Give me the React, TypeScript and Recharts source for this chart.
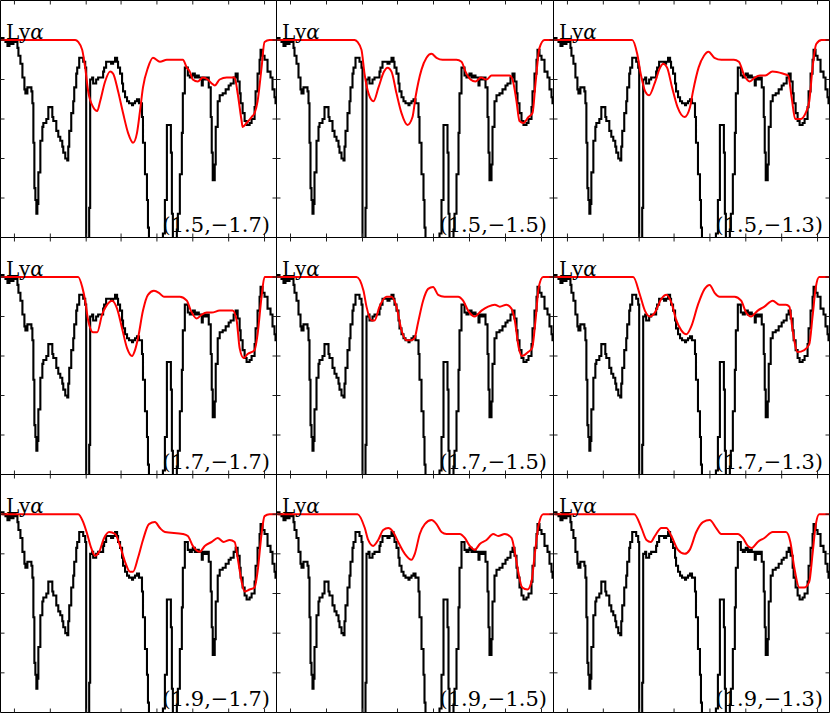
import { LineChart, Line, XAxis, YAxis } from "recharts";

// observed spectrum (same in every panel), [pixel, normalised flux]
const observed: [number, number][] = [
  [0, 1.01], [3, 1.0], [5, 0.99], [7, 0.97], [9, 1.0], [11, 0.98], [13, 1.0], [15, 0.99],
  [17, 0.96], [18, 0.92], [20, 0.88], [22, 0.81], [24, 0.75], [25, 0.73], [27, 0.76], [29, 0.76],
  [31, 0.74], [32, 0.68], [33, 0.48], [34, 0.25], [35, 0.19], [36, 0.12], [37, 0.17], [38, 0.33],
  [40, 0.49], [42, 0.56], [43, 0.58], [46, 0.6], [48, 0.66], [50, 0.66], [52, 0.61], [53, 0.59],
  [56, 0.54], [58, 0.51], [60, 0.49], [62, 0.46], [63, 0.43], [65, 0.4], [67, 0.39], [68, 0.46],
  [69, 0.54], [71, 0.63], [73, 0.69], [74, 0.76], [76, 0.83], [77, 0.86], [79, 0.91], [82, 0.91],
  [83, 0.89], [85, 0.86], [86, -0.02], [88, -0.02], [89, 0.15], [90, 0.8], [92, 0.81], [93, 0.78],
  [96, 0.8], [98, 0.81], [101, 0.81], [103, 0.84], [104, 0.86], [106, 0.89], [108, 0.89], [111, 0.88],
  [113, 0.89], [115, 0.91], [117, 0.89], [118, 0.86], [120, 0.83], [122, 0.78], [123, 0.74], [125, 0.71],
  [127, 0.69], [129, 0.68], [132, 0.67], [133, 0.68], [135, 0.69], [137, 0.7], [139, 0.68], [140, 0.68],
  [142, 0.61], [143, 0.48], [145, 0.32], [147, 0.19], [148, 0.05], [149, -0.04], [163, 0.02], [165, 0.19],
  [167, 0.57], [169, 0.57], [171, 0.43], [172, 0.12], [173, -0.04], [177, 0.04], [178, 0.12], [180, 0.32],
  [182, 0.53], [183, 0.73], [185, 0.86], [187, 0.86], [188, 0.82], [190, 0.81], [192, 0.82], [193, 0.83],
  [195, 0.81], [197, 0.82], [199, 0.81], [202, 0.77], [203, 0.81], [205, 0.8], [207, 0.81], [209, 0.76],
  [211, 0.61], [212, 0.43], [213, 0.29], [215, 0.37], [216, 0.56], [218, 0.69], [220, 0.72], [223, 0.73],
  [226, 0.75], [229, 0.77], [231, 0.78], [234, 0.81], [236, 0.83], [238, 0.79], [240, 0.73], [241, 0.68],
  [243, 0.63], [245, 0.59], [247, 0.57], [250, 0.58], [252, 0.6], [255, 0.66], [256, 0.74], [258, 0.83],
  [260, 0.9], [261, 0.95], [263, 0.92], [265, 0.9], [268, 0.84], [271, 0.81], [273, 0.75], [275, 0.71],
  [276, 0.68], [277, 0.68],
];

// model profiles, one per (x, y) parameter pair
const model_15_17: [number, number][] = [
  [0, 1.0], [75, 1.0], [78, 0.99], [82, 0.95], [85, 0.86], [88, 0.74], [93, 0.66], [97, 0.64],
  [100, 0.69], [105, 0.79], [110, 0.84], [113, 0.83], [118, 0.74], [123, 0.63], [128, 0.53], [133, 0.48],
  [137, 0.53], [140, 0.64], [143, 0.76], [148, 0.86], [153, 0.91], [160, 0.89], [167, 0.9], [183, 0.9],
  [187, 0.86], [190, 0.84], [193, 0.8], [198, 0.79], [203, 0.81], [208, 0.8], [212, 0.78], [215, 0.77],
  [220, 0.8], [227, 0.81], [235, 0.81], [238, 0.73], [242, 0.59], [243, 0.56], [247, 0.58], [252, 0.61],
  [255, 0.63], [258, 0.69], [262, 0.86], [265, 0.99], [270, 1.0], [277, 1.0],
];
const model_15_15: [number, number][] = [
  [0, 1.0], [78, 1.0], [81, 0.99], [85, 0.95], [88, 0.83], [92, 0.73], [97, 0.69], [102, 0.76],
  [107.5, 0.84], [111, 0.86], [115, 0.84], [120, 0.73], [125, 0.63], [131, 0.57], [136, 0.61], [139, 0.71],
  [145, 0.85], [150, 0.91], [155, 0.93], [160, 0.91], [166, 0.9], [180, 0.9], [185, 0.89], [189, 0.84],
  [194, 0.8], [199, 0.79], [204.5, 0.81], [210, 0.8], [215, 0.82], [222, 0.82], [233, 0.82], [236, 0.8],
  [240, 0.69], [243, 0.59], [247, 0.58], [252, 0.61], [256, 0.63], [259, 0.78], [263, 0.96], [268, 1.0],
  [277, 1.0],
];
const model_15_13: [number, number][] = [
  [0, 1.0], [79, 1.0], [84, 0.93], [87.5, 0.83], [92, 0.74], [96, 0.72], [101.5, 0.78], [107, 0.86],
  [110, 0.88], [114, 0.86], [119, 0.76], [124.5, 0.66], [131.5, 0.61], [137, 0.66], [140, 0.74], [145.6, 0.86],
  [151, 0.92], [155.5, 0.94], [161.5, 0.91], [168.5, 0.9], [181, 0.9], [186, 0.89], [191.5, 0.82], [197, 0.79],
  [202, 0.81], [207, 0.82], [212.6, 0.82], [219.7, 0.84], [230, 0.83], [235.5, 0.82], [239, 0.71], [242.6, 0.6],
  [248, 0.6], [253, 0.63], [256.7, 0.69], [260, 0.86], [263.7, 0.98], [269, 1.0], [277, 1.0],
];
const model_17_17: [number, number][] = [
  [0, 1.0], [78, 1.0], [82, 0.95], [85, 0.88], [88, 0.78], [93, 0.72], [97, 0.72], [102, 0.81],
  [107, 0.86], [112, 0.88], [117, 0.84], [122, 0.74], [127, 0.64], [132, 0.6], [135, 0.63], [138, 0.69],
  [143, 0.83], [148, 0.91], [154, 0.93], [159, 0.92], [164, 0.9], [180, 0.9], [187, 0.88], [191, 0.83],
  [197, 0.79], [202, 0.81], [207, 0.82], [212, 0.82], [220, 0.83], [233, 0.83], [237, 0.78], [240, 0.64],
  [244, 0.59], [248, 0.61], [255, 0.63], [258, 0.71], [262, 0.9], [265, 1.0], [277, 1.0],
];
const model_17_15: [number, number][] = [
  [0, 1.0], [80, 1.0], [87, 0.93], [90, 0.85], [95, 0.78], [98, 0.78], [103, 0.85], [110, 0.9],
  [115, 0.9], [120, 0.85], [125, 0.73], [130, 0.68], [135, 0.68], [138, 0.69], [141.6, 0.77], [146.6, 0.88],
  [151.6, 0.94], [156.6, 0.95], [161.6, 0.91], [168, 0.9], [181.6, 0.9], [186.6, 0.88], [191.6, 0.83], [198.3, 0.8],
  [205, 0.83], [211.6, 0.85], [218.3, 0.86], [223.3, 0.85], [230, 0.86], [235, 0.84], [238.3, 0.78], [242.3, 0.64],
  [245.6, 0.6], [251.6, 0.62], [255.6, 0.64], [259, 0.78], [262.3, 0.95], [266.6, 1.0], [277, 1.0],
];
const model_17_13: [number, number][] = [
  [0, 1.0], [80, 1.0], [86.7, 0.91], [91.7, 0.83], [96.7, 0.8], [101.7, 0.82], [108.3, 0.89], [113.3, 0.91],
  [118.3, 0.87], [123.3, 0.78], [128.3, 0.73], [133.3, 0.71], [138.3, 0.75], [145, 0.86], [151.7, 0.94], [156.7, 0.96],
  [161.7, 0.92], [166.7, 0.9], [181.7, 0.9], [188.3, 0.88], [193.3, 0.82], [198.3, 0.8], [205, 0.83], [211.7, 0.85],
  [220, 0.88], [226.7, 0.86], [233.3, 0.86], [236.7, 0.85], [240, 0.73], [245, 0.62], [251.7, 0.63], [256.7, 0.66],
  [260, 0.8], [263.3, 0.95], [266.7, 1.0], [277, 1.0],
];
const model_19_17: [number, number][] = [
  [0, 1.0], [78, 1.0], [83, 0.96], [87, 0.9], [91, 0.83], [95, 0.79], [99, 0.81], [104, 0.88],
  [109, 0.91], [115, 0.9], [120, 0.84], [125, 0.76], [130, 0.71], [133, 0.71], [138, 0.78], [143, 0.87],
  [149, 0.95], [155, 0.96], [160, 0.93], [165, 0.91], [183, 0.9], [188, 0.89], [193, 0.84], [200, 0.81],
  [205, 0.84], [212, 0.86], [218, 0.88], [224, 0.86], [230, 0.87], [235, 0.86], [238, 0.78], [242, 0.66],
  [245, 0.61], [250, 0.62], [255, 0.63], [258, 0.71], [262, 0.9], [265, 0.99], [270, 1.0], [277, 1.0],
];
const model_19_15: [number, number][] = [
  [0, 1.0], [81, 1.0], [88.3, 0.93], [91.7, 0.87], [96.7, 0.84], [101.7, 0.87], [106.7, 0.92], [111.7, 0.93],
  [116.7, 0.91], [121.7, 0.86], [128.3, 0.8], [135, 0.77], [138.3, 0.8], [143.3, 0.9], [148.3, 0.95], [155, 0.97],
  [160, 0.95], [165, 0.91], [170, 0.9], [183.3, 0.9], [188.3, 0.88], [193.3, 0.84], [198.3, 0.82], [203.3, 0.85],
  [210, 0.87], [216.7, 0.9], [221.7, 0.89], [228.3, 0.9], [235, 0.88], [238.3, 0.81], [241.7, 0.71], [245.7, 0.63],
  [251, 0.62], [255, 0.66], [258.3, 0.8], [262.3, 0.95], [266.7, 1.0], [277, 1.0],
];
const model_19_13: [number, number][] = [
  [0, 1.0], [81, 1.0], [88.3, 0.93], [93.3, 0.87], [97.7, 0.86], [101.7, 0.89], [108.3, 0.93], [113.3, 0.93],
  [118.3, 0.89], [125, 0.82], [131.7, 0.8], [136.7, 0.82], [143.3, 0.91], [150, 0.96], [156.7, 0.97], [163.3, 0.93],
  [168.3, 0.9], [185, 0.9], [190, 0.88], [195, 0.84], [199, 0.83], [205, 0.86], [211.7, 0.88], [220, 0.91],
  [226.7, 0.91], [233.3, 0.91], [237.7, 0.86], [241.7, 0.73], [246.7, 0.63], [251.7, 0.63], [256.7, 0.66], [260, 0.8],
  [263.3, 0.95], [266.7, 1.0], [277, 1.0],
];

const labels = [
  "(1.5,\u22121.7)", "(1.5,\u22121.5)", "(1.5,\u22121.3)",
  "(1.7,\u22121.7)", "(1.7,\u22121.5)", "(1.7,\u22121.3)",
  "(1.9,\u22121.7)", "(1.9,\u22121.5)", "(1.9,\u22121.3)",
];
const models = [
  model_15_17, model_15_15, model_15_13,
  model_17_17, model_17_15, model_17_13,
  model_19_17, model_19_15, model_19_13,
];

const X_TICKS = [14, 32, 50, 68, 86, 103, 121, 139, 157, 175, 193, 211, 229, 247, 265];
const Y_TICKS = [0.2, 0.4, 0.6, 0.8, 1.0];

const colEdges = [0.5, 276.5, 553.5, 829.5];
const rowEdges = [0.5, 237.5, 474.5, 712.5];

const toRows = (pts: [number, number][]) => pts.map(([x, f]) => ({ x, f }));
const obsRows = toRows(observed);

// tick marks only, no tick labels (tick={false} would drop the marks too)
const noLabel = () => <g />;
const axisCommon = {
  type: "number" as const,
  mirror: true,
  tick: noLabel,
  tickSize: 4,
  allowDataOverflow: true,
  axisLine: { stroke: "#000", strokeWidth: 1 },
  tickLine: { stroke: "#222", strokeWidth: 1 },
};

function Panel({ label, model, col, row }: { label: string; model: [number, number][]; col: number; row: number }) {
  const left = Math.floor(colEdges[col]);
  const top = Math.floor(rowEdges[row]);
  const width = colEdges[col + 1] - colEdges[col] + 1;
  const height = rowEdges[row + 1] - rowEdges[row] + 1;
  const font = "'DejaVu Serif', serif";
  return (
    <div style={{ position: "absolute", left, top, width, height }}>
      <LineChart width={width} height={height} margin={{ top: 0.5, right: 0.5, bottom: 0.5, left: 0.5 }}>
        <XAxis xAxisId="b" dataKey="x" domain={[0, 277]} ticks={X_TICKS} orientation="bottom" {...axisCommon} />
        <XAxis xAxisId="t" dataKey="x" domain={[0, 277]} ticks={X_TICKS} orientation="top" {...axisCommon} />
        <YAxis yAxisId="l" domain={[0, 1.2]} ticks={Y_TICKS} orientation="left" {...axisCommon} />
        <YAxis yAxisId="r" domain={[0, 1.2]} ticks={Y_TICKS} orientation="right" {...axisCommon} />
        <Line xAxisId="b" yAxisId="l" data={obsRows} dataKey="f" type="stepAfter" stroke="#000"
          strokeWidth={2.1} dot={false} isAnimationActive={false} />
        <Line xAxisId="b" yAxisId="l" data={toRows(model)} dataKey="f" type="monotone" stroke="#ff0000"
          strokeWidth={2} dot={false} isAnimationActive={false} />
      </LineChart>
      <svg width={width} height={height} style={{ position: "absolute", left: 0, top: 0, pointerEvents: "none" }}>
        <text x={6} y={39} fontFamily={font} fontSize={20} fill="#000">
          Ly<tspan fontStyle="italic">α</tspan>
        </text>
        <text x={width - 7} y={232} textAnchor="end" fontFamily={font} fontSize={21} fill="#000">
          {label}
        </text>
      </svg>
    </div>
  );
}

export default function App() {
  return (
    <div style={{ position: "absolute", left: 0, top: 0, width: 830, height: 713, background: "#fff" }}>
      {labels.map((label, i) => (
        <Panel key={label} label={label} model={models[i]} col={i % 3} row={Math.floor(i / 3)} />
      ))}
    </div>
  );
}
